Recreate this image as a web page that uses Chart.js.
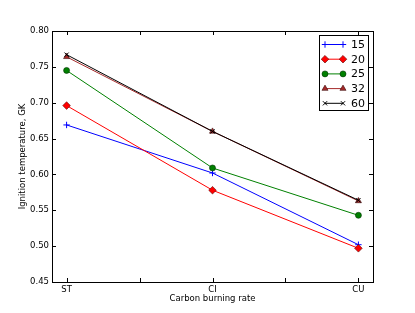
<!DOCTYPE html>
<html>
<head>
<meta charset="utf-8">
<script src="https://cdn.jsdelivr.net/npm/chart.js@4.4.1/dist/chart.umd.min.js"></script>
<style>
  html,body{margin:0;padding:0;background:#fff;}
  #wrap{width:415px;height:313px;}
</style>
</head>
<body>
<div id="wrap"><canvas id="c" width="415" height="313"></canvas></div>
<script>
  // data
  const rates = ['ST','CI','CU'];
  const seriesNames = ['15','20','25','32','60'];
  const s15 = [0.669, 0.602, 0.502];
  const s20 = [0.696, 0.578, 0.497];
  const s25 = [0.745, 0.609, 0.543];
  const s32 = [0.764, 0.660, 0.563];
  const s60 = [0.767, 0.660, 0.564];
  const yTicks = [0.45, 0.50, 0.55, 0.60, 0.65, 0.70, 0.75, 0.80];

  const FONT = 'DejaVu Sans';
  const styles = [
    {color:'#0000ff', point:'cross', r:3.2, fill:'#0000ff', edge:'#0000ff', bw:1},
    {color:'#ff0000', point:'rectRot', r:3.8, fill:'#ff0000', edge:'#5a0000', bw:0.6},
    {color:'#008000', point:'circle', r:3, fill:'#008000', edge:'#003000', bw:0.6},
    {color:'#a52a2a', point:'triangle', r:3.5, fill:'#a52a2a', edge:'#3a0a0a', bw:0.6},
    {color:'#000000', point:'crossRot', r:3, fill:'#000000', edge:'#000000', bw:1}
  ];
  const allValues = [s15, s20, s25, s32, s60];

  const datasets = allValues.map((vals, i)=>{
    const st = styles[i];
    return {
      label: seriesNames[i],
      data: vals.map((v, k)=>({x:k, y:v})),
      order: allValues.length - 1 - i,   // later series on top, like the original
      borderColor: st.color,
      borderWidth: 1,
      pointStyle: st.point,
      pointRadius: st.r,
      pointBackgroundColor: st.fill,
      pointBorderColor: st.edge,
      pointBorderWidth: st.bw,
      tension: 0
    };
  });

  // frame, inward ticks on all four sides and the legend box
  const framePlugin = {
    id:'frame',
    afterDraw(chart){
      const ctx = chart.ctx, a = chart.chartArea;
      const xs = chart.scales.x, ys = chart.scales.y;
      ctx.save();
      ctx.strokeStyle = '#000';
      ctx.lineWidth = 1;
      ctx.strokeRect(Math.round(a.left)+0.5, Math.round(a.top)+0.5, Math.round(a.right-a.left), Math.round(a.bottom-a.top));
      const tl = 4;
      ctx.beginPath();
      xs.ticks.forEach(t=>{
        if(t.value <= xs.min || t.value >= xs.max) return;
        const px = Math.round(xs.getPixelForValue(t.value))+0.5;
        ctx.moveTo(px, a.bottom); ctx.lineTo(px, a.bottom-tl);
        ctx.moveTo(px, a.top); ctx.lineTo(px, a.top+tl);
      });
      ys.ticks.forEach(t=>{
        if(t.value <= ys.min+1e-9 || t.value >= ys.max-1e-9) return;
        const py = Math.round(ys.getPixelForValue(t.value))+0.5;
        ctx.moveTo(a.left, py); ctx.lineTo(a.left+tl, py);
        ctx.moveTo(a.right, py); ctx.lineTo(a.right-tl, py);
      });
      ctx.stroke();

      // legend
      const lx = 319.5, ly = 35.5, lw = 49, lh = 75;
      ctx.fillStyle = '#fff';
      ctx.fillRect(lx, ly, lw, lh);
      ctx.strokeStyle = '#000';
      ctx.strokeRect(lx, ly, lw, lh);
      ctx.font = '11px "' + FONT + '"';
      ctx.textBaseline = 'middle';
      ctx.textAlign = 'left';
      seriesNames.forEach((name, i)=>{
        const st = styles[i];
        const y = 44.5 + i*14.7;
        ctx.strokeStyle = st.color;
        ctx.lineWidth = 1;
        ctx.beginPath(); ctx.moveTo(325, y); ctx.lineTo(343, y); ctx.stroke();
        [325, 343].forEach(px=>{
          ctx.fillStyle = st.fill;
          ctx.strokeStyle = st.edge;
          ctx.lineWidth = st.bw;
          Chart.helpers.drawPoint(ctx, {pointStyle:st.point, radius:st.r, rotation:0, borderWidth:st.bw}, px, y);
        });
        ctx.fillStyle = '#000';
        ctx.fillText(name, 351, y+0.5);
      });
      ctx.restore();
    }
  };

  new Chart(document.getElementById('c'), {
    type:'line',
    data:{datasets},
    options:{
      responsive:false,
      animation:false,
      layout:{padding:{top:31, right:42, left:0, bottom:0}},
      plugins:{legend:{display:false}, tooltip:{enabled:false}},
      scales:{
        x:{
          type:'linear', min:-0.1, max:2.1,
          grid:{display:false, drawTicks:false},
          border:{display:false},
          afterFit(s){ s.height = 31; },
          afterBuildTicks(s){ s.ticks = [0,0.5,1,1.5,2].map(v=>({value:v})); },
          ticks:{
            autoSkip:false, maxRotation:0, padding:3, color:'#000',
            font:{family:FONT, size:8.5},
            callback:(v)=> Number.isInteger(v) ? rates[v] : ''
          },
          title:{display:true, text:'Carbon burning rate', color:'#000', font:{family:FONT, size:8.5}, padding:{top:0, bottom:9}}
        },
        y:{
          min:0.45, max:0.80,
          grid:{display:false, drawTicks:false},
          border:{display:false},
          afterFit(s){ s.width = 52; },
          afterBuildTicks(s){ s.ticks = yTicks.map(v=>({value:v})); },
          ticks:{
            padding:3, color:'#000',
            font:{family:FONT, size:8.5},
            callback:(v)=> Number(v).toFixed(2)
          },
          title:{display:true, text:'Ignition temperature, GK', color:'#000', font:{family:FONT, size:8.5}, padding:{top:18, bottom:0}}
        }
      }
    },
    plugins:[framePlugin]
  });
</script>
</body>
</html>
